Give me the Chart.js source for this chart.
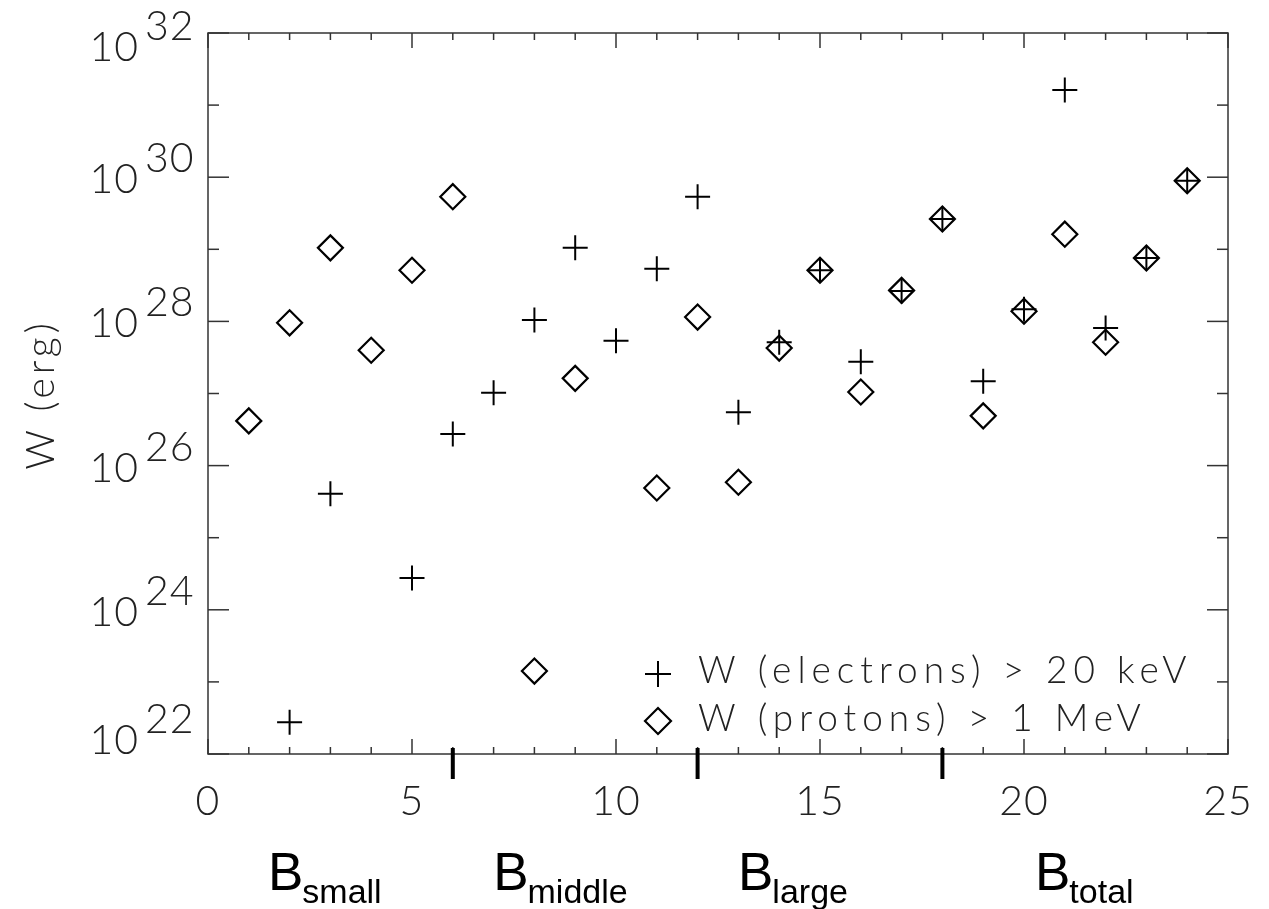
<!DOCTYPE html>
<html>
<head>
<meta charset="utf-8">
<script src="https://cdn.jsdelivr.net/npm/chart.js@4/dist/chart.umd.min.js"></script>
<style>
  html, body { margin: 0; padding: 0; background: #fff; }
  canvas { display: block; }
</style>
</head>
<body>
<canvas id="c" width="1269" height="909"></canvas>
<script>
// ---- data ----
const electronX    = [2, 3, 5, 6, 7, 8, 9, 10, 11, 12, 13, 14, 15, 16, 17, 18, 19, 20, 21, 22, 23, 24];
const electronLogW = [22.44, 25.61, 24.44, 26.44, 27.01, 28.02, 29.02, 27.73, 28.73, 29.73, 26.74, 27.71, 28.71, 27.44, 28.42, 29.42, 27.17, 28.17, 31.21, 27.91, 28.88, 29.95];
const protonX      = [1, 2, 3, 4, 5, 6, 8, 9, 11, 12, 13, 14, 15, 16, 17, 18, 19, 20, 21, 22, 23, 24];
const protonLogW   = [26.62, 27.98, 29.02, 27.60, 28.71, 29.73, 23.15, 27.21, 25.69, 28.06, 25.77, 27.63, 28.71, 27.02, 28.43, 29.42, 26.69, 28.14, 29.21, 27.71, 28.88, 29.95];
const seriesLabels = ['W (electrons) > 20 keV', 'W (protons) > 1 MeV'];
const yExponents   = [22, 23, 24, 25, 26, 27, 28, 29, 30, 31, 32];
const xTickLabels  = [0, 5, 10, 15, 20, 25];
const groupNames   = ['small', 'middle', 'large', 'total'];
const groupBounds  = [6, 12, 18];
const yTitle       = 'W (erg)';

// label anchor positions (x units), layout only
const groupLabelX  = [1.47, 6.99, 12.99, 20.27];

const thinFont = 'Lato, "DejaVu Sans", sans-serif';
const textColor = '#222';

const electronData = electronX.map((x, i) => ({ x: x, y: Math.pow(10, electronLogW[i]) }));
const protonData   = protonX.map((x, i) => ({ x: x, y: Math.pow(10, protonLogW[i]) }));

function line(ctx, x1, y1, x2, y2) {
  ctx.beginPath(); ctx.moveTo(x1, y1); ctx.lineTo(x2, y2); ctx.stroke();
}

const decorPlugin = {
  id: 'decor',
  afterDraw(chart) {
    const { ctx, chartArea: a, scales: { x, y } } = chart;
    ctx.save();
    // frame
    ctx.strokeStyle = '#333';
    ctx.lineWidth = 1.5;
    ctx.strokeRect(a.left, a.top, a.right - a.left, a.bottom - a.top);
    // x ticks (inward, bottom and top)
    x.ticks.forEach(t => {
      const px = x.getPixelForValue(t.value);
      const len = (t.value % 5 === 0) ? 15 : 7;
      line(ctx, px, a.bottom, px, a.bottom - len);
      line(ctx, px, a.top, px, a.top + len);
    });
    // y ticks (inward, left and right)
    y.ticks.forEach(t => {
      const e = Math.round(Math.log10(t.value));
      const py = y.getPixelForValue(t.value);
      const len = (e % 2 === 0) ? 21 : 11;
      line(ctx, a.left, py, a.left + len, py);
      line(ctx, a.right, py, a.right - len, py);
    });
    // group separators
    ctx.strokeStyle = '#000';
    ctx.lineWidth = 4;
    groupBounds.forEach(v => {
      const px = x.getPixelForValue(v);
      line(ctx, px, a.bottom - 6, px, a.bottom + 25);
    });

    ctx.fillStyle = textColor;
    // y tick labels 10^n
    ctx.font = '300 41px ' + thinFont;
    ctx.letterSpacing = '1px';
    y.ticks.forEach(t => {
      const e = Math.round(Math.log10(t.value));
      if (e % 2 !== 0) return;
      let py = y.getPixelForValue(t.value);
      if (e === yExponents[yExponents.length - 1]) py += 12;
      if (e === yExponents[0]) py -= 16;
      ctx.textAlign = 'right';
      ctx.textBaseline = 'alphabetic';
      ctx.fillText('10', a.left - 69, py + 16);
      ctx.textAlign = 'left';
      ctx.fillText(String(e), a.left - 63, py - 5);
    });
    // x tick labels
    ctx.textAlign = 'center';
    xTickLabels.forEach(v => {
      ctx.fillText(String(v), x.getPixelForValue(v), a.bottom + 61);
    });
    // y title
    ctx.save();
    ctx.font = '300 39px ' + thinFont;
    ctx.letterSpacing = '4px';
    ctx.translate(54, (a.top + a.bottom) / 2 + 1);
    ctx.rotate(-Math.PI / 2);
    ctx.textAlign = 'center';
    ctx.fillText(yTitle, 0, 0);
    ctx.restore();

    // legend
    const lx = a.left + 450, ly1 = a.bottom - 80, ly2 = a.bottom - 33;
    ctx.strokeStyle = '#000';
    ctx.fillStyle = 'rgba(0,0,0,0)';
    ctx.lineWidth = 2;
    Chart.helpers.drawPoint(ctx, { pointStyle: 'cross', radius: 13, borderWidth: 2 }, lx, ly1);
    ctx.lineWidth = 2.2;
    Chart.helpers.drawPoint(ctx, { pointStyle: 'rectRot', radius: 13, borderWidth: 2.2 }, lx, ly2);
    ctx.fillStyle = textColor;
    ctx.font = '300 37px ' + thinFont;
    ctx.letterSpacing = '6px';
    ctx.textAlign = 'left';
    ctx.textBaseline = 'alphabetic';
    ctx.fillText(seriesLabels[0], lx + 40, ly1 + 9);
    ctx.fillText(seriesLabels[1], lx + 40, ly2 + 10);
    ctx.letterSpacing = '0px';

    // group labels B_sub
    ctx.fillStyle = '#000';
    groupNames.forEach((g, i) => {
      const px = x.getPixelForValue(groupLabelX[i]);
      ctx.font = '53px "Liberation Sans", Arial, sans-serif';
      ctx.fillText('B', px, a.bottom + 136);
      const w = ctx.measureText('B').width;
      ctx.font = '34px "Liberation Sans", Arial, sans-serif';
      ctx.fillText(g, px + w - 1, a.bottom + 149);
    });
    ctx.restore();
  }
};

new Chart(document.getElementById('c'), {
  type: 'scatter',
  data: {
    datasets: [
      {
        label: seriesLabels[0],
        data: electronData,
        pointStyle: 'cross',
        pointRadius: 12.5,
        pointHoverRadius: 12.5,
        borderColor: '#000',
        backgroundColor: 'rgba(0,0,0,0)',
        pointBorderWidth: 2,
        showLine: false
      },
      {
        label: seriesLabels[1],
        data: protonData,
        pointStyle: 'rectRot',
        pointRadius: 12.5,
        pointHoverRadius: 12.5,
        borderColor: '#000',
        backgroundColor: 'rgba(0,0,0,0)',
        pointBorderWidth: 2.2,
        showLine: false
      }
    ]
  },
  options: {
    responsive: false,
    animation: false,
    events: [],
    layout: { padding: { top: 33, right: 41, left: 0, bottom: 0 } },
    plugins: { legend: { display: false }, tooltip: { enabled: false } },
    scales: {
      x: {
        type: 'linear',
        min: 0, max: 25,
        grid: { display: false },
        border: { display: false },
        ticks: { display: false, stepSize: 1 },
        afterFit(s) { s.height = 155; }
      },
      y: {
        type: 'logarithmic',
        min: Math.pow(10, yExponents[0]),
        max: Math.pow(10, yExponents[yExponents.length - 1]),
        grid: { display: false },
        border: { display: false },
        ticks: { display: false },
        afterBuildTicks(s) { s.ticks = yExponents.map(e => ({ value: Math.pow(10, e) })); },
        afterFit(s) { s.width = 208; }
      }
    }
  },
  plugins: [decorPlugin]
});
</script>
</body>
</html>
